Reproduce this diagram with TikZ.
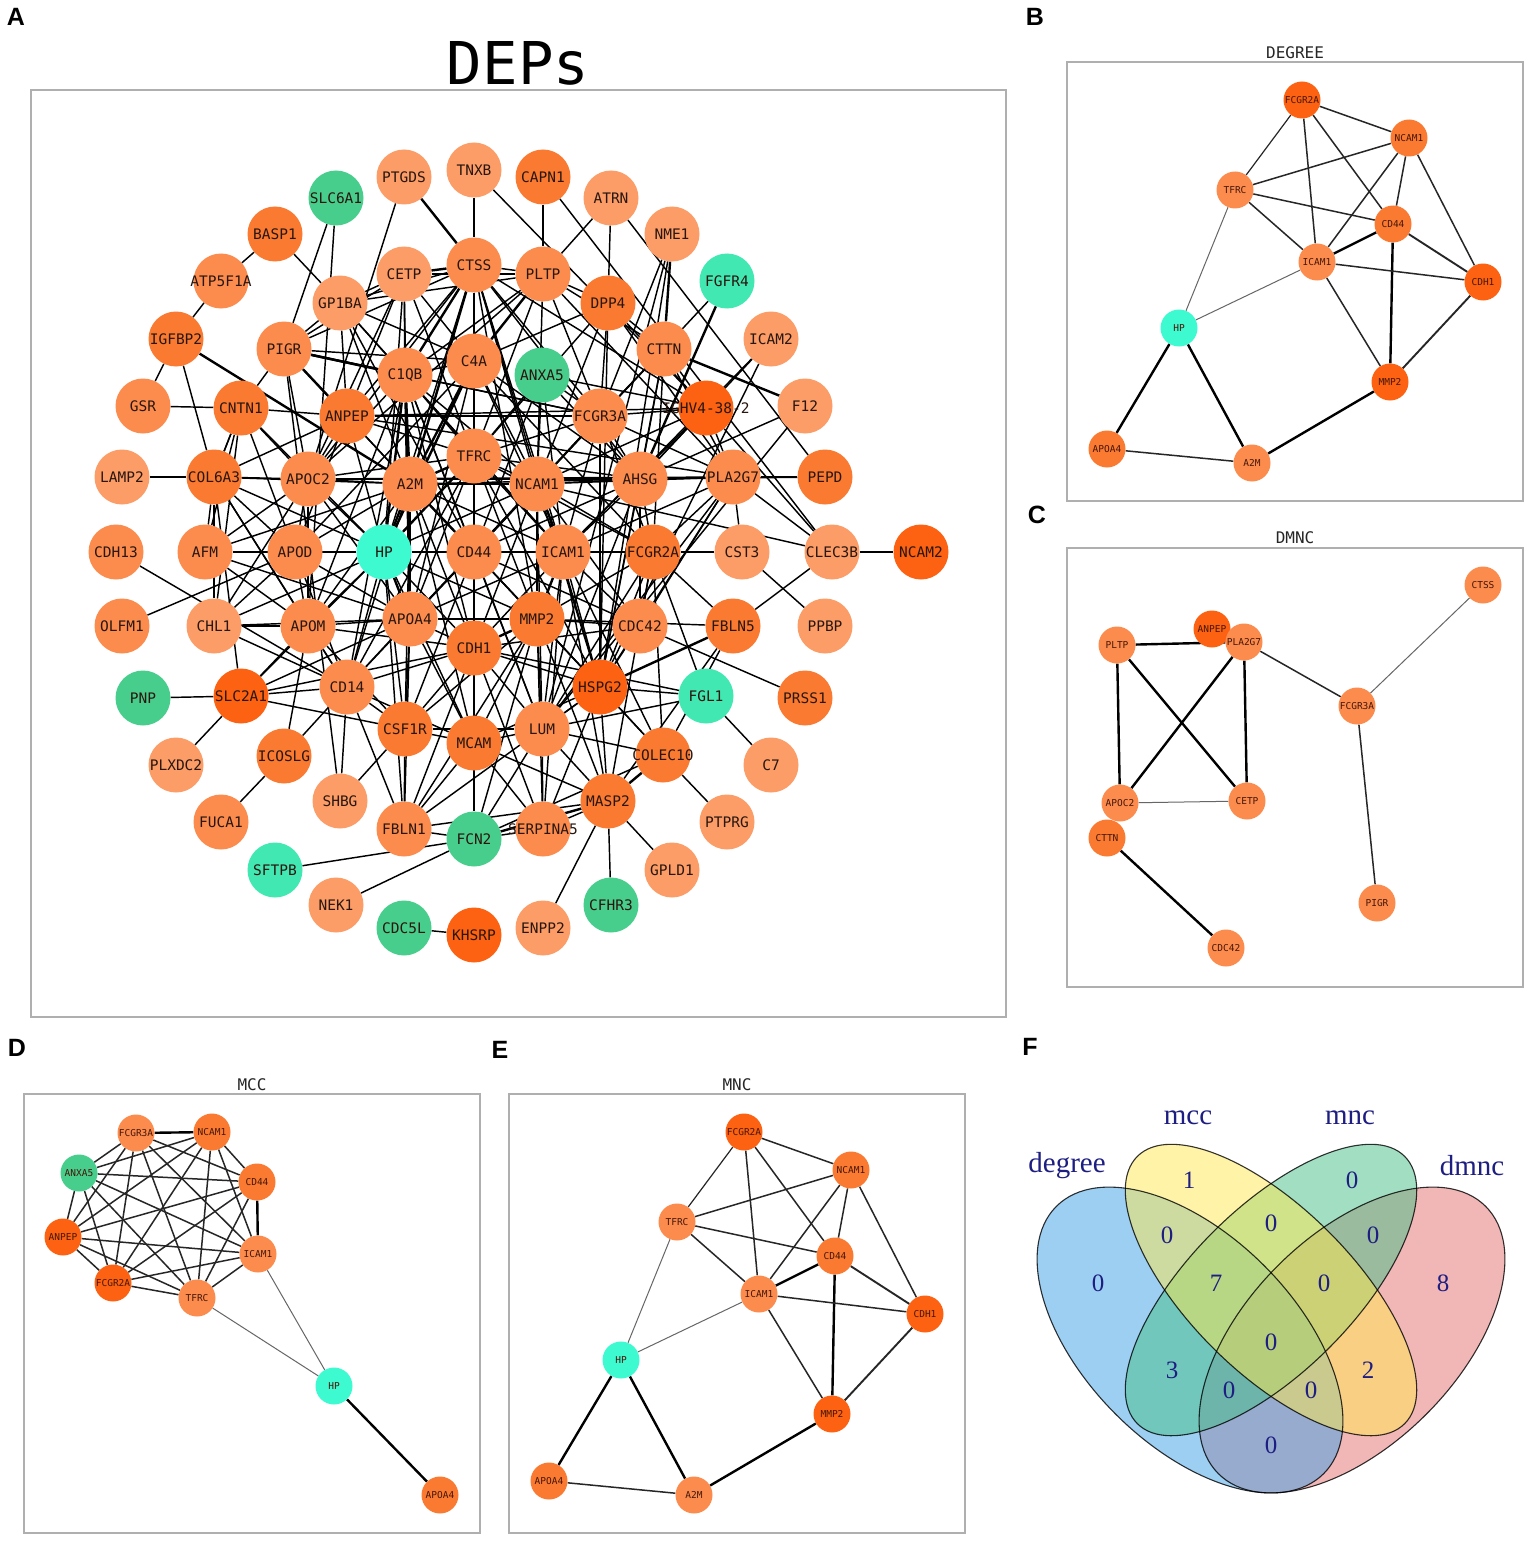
\documentclass[tikz,border=0pt]{standalone}
\usepackage{fontspec}
\newfontfamily\monof{DejaVu Sans Mono}
\newfontfamily\arialf{Liberation Sans}
\newfontfamily\timesf{Liberation Serif}
\pgfdeclarelayer{bg}
\pgfsetlayers{bg,main}
\definecolor{o1}{RGB}{252,156,102}
\definecolor{o2}{RGB}{252,140,78}
\definecolor{o3}{RGB}{250,122,50}
\definecolor{o4}{RGB}{252,98,18}
\definecolor{gr}{RGB}{72,206,140}
\definecolor{aq}{RGB}{66,232,178}
\definecolor{hpc}{RGB}{62,250,208}
\definecolor{labc}{RGB}{40,22,15}
\definecolor{slab}{RGB}{70,22,8}
\definecolor{framec}{RGB}{175,175,175}
\definecolor{vblue}{RGB}{60,160,230}
\definecolor{vyellow}{RGB}{255,232,80}
\definecolor{vgreen}{RGB}{70,192,135}
\definecolor{vpink}{RGB}{228,112,112}
\definecolor{vtext}{RGB}{30,30,130}
\tikzset{
  na/.style={circle, minimum size=55pt, inner sep=0pt, draw=none},
  la/.style={font=\monof\fontsize{14.5}{16}\selectfont, text=labc, inner sep=0pt},
  ns/.style={circle, minimum size=37pt, inner sep=0pt, draw=none},
  ls/.style={font=\monof\fontsize{9.5}{11}\selectfont, text=slab, inner sep=0pt},
  e/.style={line width=1.45pt, draw=black},
  et/.style={line width=2.4pt},
  sn/.style={line width=1.5pt, draw=black!85},
  st/.style={line width=1.0pt, draw=black!60},
  sk/.style={line width=2.4pt, draw=black},
  panelframe/.style={draw=framec, line width=1.4pt},
  ptitle/.style={font=\monof\fontsize{16}{18}\selectfont, text=black!85},
  pletter/.style={font=\arialf\bfseries\fontsize{25}{28}\selectfont, text=black},
  vlab/.style={font=\timesf\fontsize{29}{32}\selectfont, text=vtext},
  vnum/.style={font=\timesf\fontsize{25}{28}\selectfont, text=vtext},
}
\newcommand\netnodeA[4]{\node[na,fill=#3,label={[la]center:#4}] (#1) at (#2) {};}
\newcommand\netnodeS[4]{\node[ns,fill=#3,label={[ls]center:#4}] (#1) at (#2) {};}
\newcommand\hubedges[3][]{\foreach \tgt in {#3}{\draw[e,#1] (#2) -- (\tgt);}}
\newcommand\sedges[3][]{\foreach \tgt in {#3}{\draw[sn,#1] (#2) -- (\tgt);}}
\newcommand\DegreeNet[1]{%
  \netnodeS{#1FCGR2A}{1302,100}{o4}{FCGR2A}
  \netnodeS{#1NCAM1}{1409,138}{o3}{NCAM1}
  \netnodeS{#1TFRC}{1235,190}{o2}{TFRC}
  \netnodeS{#1CD44}{1393,224}{o3}{CD44}
  \netnodeS{#1ICAM1}{1317,262}{o2}{ICAM1}
  \netnodeS{#1CDH1}{1483,282}{o4}{CDH1}
  \netnodeS{#1HP}{1179,328}{hpc}{HP}
  \netnodeS{#1MMP2}{1390,382}{o4}{MMP2}
  \netnodeS{#1APOA4}{1107,449}{o3}{APOA4}
  \netnodeS{#1A2M}{1252,463}{o2}{A2M}
  \begin{pgfonlayer}{bg}
    \sedges{#1FCGR2A}{#1NCAM1,#1ICAM1,#1CD44}
    \sedges[line width=1.2pt]{#1FCGR2A}{#1TFRC}
    \sedges{#1NCAM1}{#1TFRC,#1ICAM1,#1CD44,#1CDH1}
    \sedges{#1TFRC}{#1CD44,#1ICAM1}
    \sedges[st]{#1TFRC}{#1HP}
    \sedges[sk]{#1CD44}{#1ICAM1,#1MMP2}
    \sedges[line width=1.9pt]{#1CD44}{#1CDH1}
    \sedges{#1ICAM1}{#1CDH1,#1MMP2}
    \sedges[st]{#1ICAM1}{#1HP}
    \sedges[line width=1.9pt]{#1CDH1}{#1MMP2}
    \sedges[sk]{#1HP}{#1APOA4,#1A2M}
    \sedges{#1APOA4}{#1A2M}
    \sedges[sk]{#1A2M}{#1MMP2}
  \end{pgfonlayer}}
\begin{document}
\begin{tikzpicture}[x=1pt,y=-1pt]
\useasboundingbox (0,0) rectangle (1535,1546);
\begin{pgfonlayer}{bg}
\fill[white] (0,0) rectangle (1535,1546);
\end{pgfonlayer}

% ---------------- Panel A ----------------
\node[pletter] (LA) at (16,17) {A};
\node[font=\monof\fontsize{59}{62}\selectfont] (titA) at (518,63) {DEPs};
\draw[panelframe] (31,90) rectangle (1006,1017);

\netnodeA{PTGDS}{404,177}{o1}{PTGDS}
\netnodeA{TNXB}{474,170}{o1}{TNXB}
\netnodeA{CAPN1}{543,177}{o3}{CAPN1}
\netnodeA{ATRN}{611,198}{o1}{ATRN}
\netnodeA{NME1}{672,234}{o1}{NME1}
\netnodeA{SLC6A1}{336,198}{gr}{SLC6A1}
\netnodeA{BASP1}{275,234}{o3}{BASP1}
\netnodeA{ATP}{221,281}{o2}{ATP5F1A}
\netnodeA{CETP}{404,274}{o1}{CETP}
\netnodeA{CTSS}{474,265}{o2}{CTSS}
\netnodeA{PLTP}{543,274}{o2}{PLTP}
\netnodeA{DPP4}{608,303}{o3}{DPP4}
\netnodeA{FGFR4}{727,281}{aq}{FGFR4}
\netnodeA{GP1BA}{340,303}{o1}{GP1BA}
\netnodeA{IGFBP2}{176,339}{o3}{IGFBP2}
\netnodeA{PIGR}{284,349}{o2}{PIGR}
\netnodeA{C1QB}{405,375}{o2}{C1QB}
\netnodeA{C4A}{474,361}{o2}{C4A}
\netnodeA{ANXA5}{542,375}{gr}{ANXA5}
\netnodeA{CTTN}{664,349}{o2}{CTTN}
\netnodeA{ICAM2}{771,339}{o1}{ICAM2}
\netnodeA{GSR}{143,406}{o2}{GSR}
\netnodeA{CNTN1}{241,408}{o3}{CNTN1}
\netnodeA{ANPEP}{347,416}{o3}{ANPEP}
\netnodeA{FCGR3A}{600,416}{o2}{FCGR3A}
\netnodeA{IGHV}{706,408}{o4}{IGHV4-38-2}
\netnodeA{F12}{805,406}{o1}{F12}
\netnodeA{LAMP2}{122,477}{o1}{LAMP2}
\netnodeA{COL6A3}{214,477}{o3}{COL6A3}
\netnodeA{APOC2}{308,479}{o2}{APOC2}
\netnodeA{A2M}{410,484}{o2}{A2M}
\netnodeA{TFRC}{474,456}{o2}{TFRC}
\netnodeA{NCAM1}{537,484}{o2}{NCAM1}
\netnodeA{AHSG}{640,479}{o2}{AHSG}
\netnodeA{PLA2G7}{733,477}{o2}{PLA2G7}
\netnodeA{PEPD}{825,477}{o3}{PEPD}
\netnodeA{CDH13}{116,552}{o2}{CDH13}
\netnodeA{AFM}{205,552}{o2}{AFM}
\netnodeA{APOD}{295,552}{o2}{APOD}
\netnodeA{HP}{384,552}{hpc}{HP}
\netnodeA{CD44}{474,552}{o2}{CD44}
\netnodeA{ICAM1}{563,552}{o2}{ICAM1}
\netnodeA{FCGR2A}{653,552}{o3}{FCGR2A}
\netnodeA{CST3}{742,552}{o1}{CST3}
\netnodeA{CLEC3B}{832,552}{o1}{CLEC3B}
\netnodeA{NCAM2}{921,552}{o4}{NCAM2}
\netnodeA{OLFM1}{122,626}{o2}{OLFM1}
\netnodeA{CHL1}{214,626}{o1}{CHL1}
\netnodeA{APOM}{308,626}{o2}{APOM}
\netnodeA{APOA4}{410,619}{o2}{APOA4}
\netnodeA{CDH1}{474,648}{o3}{CDH1}
\netnodeA{MMP2}{537,619}{o3}{MMP2}
\netnodeA{CDC42}{640,626}{o2}{CDC42}
\netnodeA{FBLN5}{733,626}{o3}{FBLN5}
\netnodeA{PPBP}{825,626}{o1}{PPBP}
\netnodeA{PNP}{143,698}{gr}{PNP}
\netnodeA{SLC2A1}{241,696}{o4}{SLC2A1}
\netnodeA{CD14}{347,687}{o2}{CD14}
\netnodeA{CSF1R}{405,729}{o3}{CSF1R}
\netnodeA{MCAM}{474,743}{o3}{MCAM}
\netnodeA{LUM}{542,729}{o2}{LUM}
\netnodeA{HSPG2}{600,687}{o4}{HSPG2}
\netnodeA{FGL1}{706,696}{aq}{FGL1}
\netnodeA{PRSS1}{805,698}{o3}{PRSS1}
\netnodeA{PLXDC2}{176,765}{o1}{PLXDC2}
\netnodeA{ICOSLG}{284,756}{o3}{ICOSLG}
\netnodeA{COLEC10}{663,755}{o3}{COLEC10}
\netnodeA{C7}{771,765}{o1}{C7}
\netnodeA{FUCA1}{221,822}{o2}{FUCA1}
\netnodeA{SHBG}{340,801}{o1}{SHBG}
\netnodeA{FBLN1}{404,829}{o2}{FBLN1}
\netnodeA{FCN2}{474,839}{gr}{FCN2}
\netnodeA{SERPINA5}{543,829}{o2}{SERPINA5}
\netnodeA{MASP2}{608,801}{o3}{MASP2}
\netnodeA{PTPRG}{727,822}{o1}{PTPRG}
\netnodeA{GPLD1}{672,870}{o1}{GPLD1}
\netnodeA{SFTPB}{275,870}{aq}{SFTPB}
\netnodeA{NEK1}{336,905}{o1}{NEK1}
\netnodeA{CDC5L}{404,928}{gr}{CDC5L}
\netnodeA{KHSRP}{474,935}{o4}{KHSRP}
\netnodeA{ENPP2}{543,928}{o1}{ENPP2}
\netnodeA{CFHR3}{611,905}{gr}{CFHR3}

\begin{pgfonlayer}{bg}
% outer edges
\hubedges{BASP1}{ATP,GP1BA}
\hubedges{ATP}{IGFBP2}
\hubedges{IGFBP2}{GSR,COL6A3}
\hubedges[et]{IGFBP2}{A2M}
\hubedges{SLC6A1}{PIGR,APOM}
\hubedges[et]{PTGDS}{CTSS}
\hubedges{PTGDS}{APOC2}
\hubedges[et]{TNXB}{CTSS}
\hubedges{TNXB}{IGHV}
\hubedges[et]{CAPN1}{PLTP}
\hubedges{CAPN1}{CLEC3B}
\hubedges{ATRN}{PLTP,DPP4,PEPD}
\hubedges[et]{NME1}{CTTN}
\hubedges{NME1}{FCGR3A,HSPG2,LUM}
\hubedges[et]{FGFR4}{AHSG}
\hubedges{FGFR4}{CD44}
\hubedges{ICAM2}{HSPG2,ICAM1,AHSG}
\hubedges[et]{F12}{CTTN}
\hubedges{F12}{AHSG,LUM}
\hubedges[et]{PEPD}{PLA2G7}
\hubedges{PEPD}{AHSG}
\hubedges[et]{CLEC3B}{NCAM2}
\hubedges{CLEC3B}{FBLN5,PLA2G7,IGHV,NCAM1}
\hubedges{CST3}{PPBP,PLA2G7,FCGR2A}
\hubedges{GSR}{CNTN1}
\hubedges{LAMP2}{COL6A3}
\hubedges{CDH13}{CD14}
\hubedges{OLFM1}{APOD}
\hubedges{PNP}{SLC2A1}
\hubedges{SLC2A1}{CSF1R,PLXDC2}
\hubedges{ICOSLG}{FUCA1}
\hubedges{SHBG}{CSF1R,CD14,PIGR}
\hubedges{SFTPB}{FCN2}
\hubedges{NEK1}{FCN2}
\hubedges{CDC5L}{KHSRP}
\hubedges{MASP2}{ENPP2,CFHR3,GPLD1}
\hubedges{PTPRG}{COLEC10}
\hubedges{C7}{FGL1}
\hubedges{PRSS1}{CDC42}
\hubedges{FGL1}{FCGR2A,LUM,HSPG2,CDH1}
\hubedges[et]{FBLN5}{HSPG2}
\hubedges{FBLN5}{MASP2,COLEC10}
% core edges
\hubedges{CTSS}{C4A,TFRC,NCAM1,HP,ICAM1,FCGR3A,ANPEP,APOC2,AHSG,MMP2,CDH1,GP1BA,PIGR,PLTP,HSPG2,IGHV}
\hubedges[et]{CTSS}{C1QB,A2M,CD44,CETP}
\hubedges{C4A}{C1QB,TFRC,NCAM1,ICAM1,APOA4,CDH1,FCGR2A,AHSG,PIGR,GP1BA,CETP,DPP4,APOD,MCAM}
\hubedges[et]{C4A}{A2M,HP,CD44,PLTP}
\hubedges{C1QB}{TFRC,CD44,NCAM1,ICAM1,CD14,APOM,CETP,GP1BA,PLTP,FCGR3A,CDH1,APOC2,LUM}
\hubedges[et]{C1QB}{A2M,HP,APOA4,PIGR}
\hubedges{TFRC}{NCAM1,ICAM1,FCGR2A,MMP2,CDH1,APOA4,AHSG,FCGR3A,ANXA5,PLTP,DPP4,CETP,ANPEP,APOC2,HSPG2,CD14}
\hubedges[et]{TFRC}{A2M,HP,CD44}
\hubedges{A2M}{NCAM1,ICAM1,APOC2,APOD,APOM,CDH1,MMP2,AHSG,CD14,CSF1R,ANPEP,GP1BA,AFM,COL6A3,PIGR,MCAM}
\hubedges[et]{A2M}{HP,CD44,APOA4}
\hubedges{NCAM1}{HP,FCGR2A,AHSG,PLA2G7,CDH1,MMP2,APOA4,ANXA5,FCGR3A,CTTN,DPP4,PLTP,LUM,CDC42,HSPG2,IGHV}
\hubedges[et]{NCAM1}{CD44,ICAM1}
\hubedges{HP}{ICAM1,APOM,APOD,APOC2,CDH1,MMP2,CD14,CSF1R,AFM,CHL1,COL6A3,ANPEP,CNTN1,FBLN1,MCAM,SLC2A1}
\hubedges[et]{HP}{CD44,APOA4}
\hubedges{CD44}{CDH1,MMP2,APOA4,FCGR2A,AHSG,CD14,MCAM,LUM,HSPG2,CDC42,ANXA5,FCGR3A,CSF1R}
\hubedges[et]{CD44}{ICAM1}
\hubedges{ICAM1}{FCGR2A,CDH1,AHSG,PLA2G7,LUM,HSPG2,CDC42,APOA4,MASP2,SERPINA5,FCGR3A,IGHV,ANXA5,COLEC10}
\hubedges[et]{ICAM1}{MMP2}
\hubedges{CDH1}{APOA4,CD14,CSF1R,MCAM,LUM,HSPG2,FBLN1,FCN2,SERPINA5,APOM,SLC2A1,CDC42}
\hubedges[et]{CDH1}{MMP2}
\hubedges{MMP2}{APOA4,FCGR2A,LUM,HSPG2,MCAM,CDC42,MASP2,FCN2,FBLN1,CSF1R,COLEC10,SERPINA5,FBLN5}
\hubedges{APOA4}{APOM,APOD,APOC2,CD14,CSF1R,CHL1,AFM,FBLN1,MCAM,SLC2A1}
\hubedges{FCGR2A}{AHSG,PLA2G7,CDC42,HSPG2,LUM,FCGR3A,MASP2,COLEC10,FBLN5}
\hubedges{FCGR3A}{ANXA5,AHSG,PLA2G7,IGHV,CTTN,DPP4,PLTP,ANPEP,PIGR,HSPG2}
\hubedges{AHSG}{PLA2G7,IGHV,CTTN,ANXA5,CDC42,HSPG2,LUM,APOC2}
\hubedges{ANPEP}{APOC2,COL6A3,CNTN1,APOD,GP1BA,CETP,IGHV,PLA2G7}
\hubedges[et]{ANPEP}{PIGR}
\hubedges{APOC2}{COL6A3,APOD,APOM,AFM,CHL1,CNTN1,PIGR,CETP,PLTP,PLA2G7}
\hubedges{COL6A3}{AFM,APOD,APOM,CHL1,CNTN1,CD14,SLC2A1}
\hubedges{APOD}{AFM,APOM,CHL1,CD14,CNTN1}
\hubedges{APOM}{CHL1,CD14,CSF1R,SLC2A1,ICOSLG,AFM}
\hubedges{CD14}{CSF1R,SLC2A1,ICOSLG,CHL1,MCAM,FBLN1}
\hubedges{CSF1R}{MCAM,LUM,FBLN1}
\hubedges{MCAM}{LUM,FBLN1,FCN2,SERPINA5,MASP2,HSPG2}
\hubedges{LUM}{HSPG2,SERPINA5,MASP2,FCN2,COLEC10}
\hubedges{HSPG2}{COLEC10,MASP2,SERPINA5,FBLN1,CDC42}
\hubedges[et]{MASP2}{COLEC10,FCN2}
\hubedges{MASP2}{SERPINA5,FBLN1}
\hubedges{FCN2}{FBLN1,SERPINA5,COLEC10}
\hubedges{CNTN1}{PIGR,CHL1,AFM,COL6A3}
\hubedges[et]{PIGR}{C1QB}
\hubedges{PIGR}{GP1BA,CETP}
\hubedges{GP1BA}{CETP,PLTP,CD44,ICAM1}
\hubedges{PLTP}{CETP,DPP4,PLA2G7,CTTN}
\hubedges{DPP4}{CTTN,IGHV,PLA2G7,HSPG2}
\hubedges{CTTN}{IGHV,PLA2G7,HSPG2,FCGR2A}
\hubedges{IGHV}{PLA2G7,ANXA5}
\hubedges{PLA2G7}{CDC42,LUM,HSPG2}
\hubedges{CETP}{APOA4,HP}
\end{pgfonlayer}

% ---------------- Panel B ----------------
\node[pletter] (LB) at (1035,17) {B};
\node[ptitle] (titB) at (1295,53) {DEGREE};
\draw[panelframe] (1067,62) rectangle (1523,501);
\DegreeNet{b}

% ---------------- Panel C ----------------
\node[pletter] (LC) at (1037,515) {C};
\node[ptitle] (titC) at (1295,538) {DMNC};
\draw[panelframe] (1067,548) rectangle (1523,987);
\netnodeS{cCTSS}{1483,585}{o2}{CTSS}
\netnodeS{cPLTP}{1117,645}{o2}{PLTP}
\netnodeS{cANPEP}{1212,629}{o4}{ANPEP}
\netnodeS{cPLA2G7}{1244,642}{o2}{PLA2G7}
\netnodeS{cFCGR3A}{1357,706}{o2}{FCGR3A}
\netnodeS{cAPOC2}{1120,803}{o2}{APOC2}
\netnodeS{cCETP}{1247,801}{o2}{CETP}
\netnodeS{cCTTN}{1107,838}{o3}{CTTN}
\netnodeS{cPIGR}{1377,903}{o2}{PIGR}
\netnodeS{cCDC42}{1226,948}{o2}{CDC42}
\begin{pgfonlayer}{bg}
\sedges[sk]{cPLTP}{cPLA2G7,cAPOC2,cCETP}
\sedges[sk]{cPLA2G7}{cAPOC2,cCETP}
\sedges[st]{cAPOC2}{cCETP}
\sedges{cPLA2G7}{cFCGR3A}
\sedges[st]{cFCGR3A}{cCTSS}
\sedges{cFCGR3A}{cPIGR}
\sedges[sk]{cCTTN}{cCDC42}
\end{pgfonlayer}

% ---------------- Panel D ----------------
\node[pletter] (LD) at (17,1048) {D};
\node[ptitle] (titD) at (252,1085) {MCC};
\draw[panelframe] (24,1094) rectangle (480,1533);
\netnodeS{dFCGR3A}{136,1133}{o2}{FCGR3A}
\netnodeS{dNCAM1}{212,1132}{o3}{NCAM1}
\netnodeS{dANXA5}{79,1173}{gr}{ANXA5}
\netnodeS{dCD44}{257,1182}{o3}{CD44}
\netnodeS{dANPEP}{63,1237}{o4}{ANPEP}
\netnodeS{dICAM1}{258,1254}{o2}{ICAM1}
\netnodeS{dFCGR2A}{113,1283}{o4}{FCGR2A}
\netnodeS{dTFRC}{197,1298}{o2}{TFRC}
\netnodeS{dHP}{334,1386}{hpc}{HP}
\netnodeS{dAPOA4}{440,1495}{o3}{APOA4}
\begin{pgfonlayer}{bg}
\sedges[sk]{dFCGR3A}{dNCAM1}
\sedges{dFCGR3A}{dANXA5,dCD44,dANPEP,dICAM1,dFCGR2A,dTFRC}
\sedges{dNCAM1}{dANXA5,dCD44,dANPEP,dICAM1,dFCGR2A,dTFRC}
\sedges{dANXA5}{dCD44,dANPEP,dICAM1,dFCGR2A,dTFRC}
\sedges{dCD44}{dANPEP,dFCGR2A,dTFRC}
\sedges[sk]{dCD44}{dICAM1}
\sedges{dANPEP}{dICAM1,dFCGR2A,dTFRC}
\sedges{dICAM1}{dFCGR2A,dTFRC}
\sedges{dFCGR2A}{dTFRC}
\sedges[st]{dHP}{dTFRC,dICAM1}
\sedges[sk]{dHP}{dAPOA4}
\end{pgfonlayer}

% ---------------- Panel E ----------------
\node[pletter] (LE) at (500,1050) {E};
\node[ptitle] (titE) at (737,1085) {MNC};
\draw[panelframe] (509,1094) rectangle (965,1533);
\begin{scope}[shift={(-558,1032)}]
\DegreeNet{e}
\end{scope}

% ---------------- Panel F ----------------
\node[pletter] (LF) at (1030,1047) {F};
\begin{scope}[fill opacity=0.5]
\fill[vpink, shift={(1352,1340)}, rotate=45] (0,0) ellipse [x radius=189, y radius=105];
\fill[vblue, shift={(1190,1340)}, rotate=-45] (0,0) ellipse [x radius=189, y radius=105];
\fill[vgreen, shift={(1271,1290)}, rotate=45] (0,0) ellipse [x radius=189, y radius=82];
\fill[vyellow, shift={(1271,1290)}, rotate=-45] (0,0) ellipse [x radius=189, y radius=82];
\end{scope}
\begin{scope}[draw=black, draw opacity=0.8, line width=1.1pt]
\draw[shift={(1190,1340)}, rotate=-45] (0,0) ellipse [x radius=189, y radius=105];
\draw[shift={(1271,1290)}, rotate=-45] (0,0) ellipse [x radius=189, y radius=82];
\draw[shift={(1271,1290)}, rotate=45] (0,0) ellipse [x radius=189, y radius=82];
\draw[shift={(1352,1340)}, rotate=45] (0,0) ellipse [x radius=189, y radius=105];
\end{scope}
\node[vlab] (vdeg) at (1067,1166) {degree};
\node[vlab] (vmcc) at (1188,1118) {mcc};
\node[vlab] (vmnc) at (1350,1118) {mnc};
\node[vlab] (vdmnc) at (1472,1166) {dmnc};
\node[vnum] (n1) at (1189,1180) {1};
\node[vnum] (n2) at (1352,1180) {0};
\node[vnum] (n3) at (1098,1283) {0};
\node[vnum] (n4) at (1443,1283) {8};
\node[vnum] (n5) at (1167,1235) {0};
\node[vnum] (n6) at (1271,1223) {0};
\node[vnum] (n7) at (1373,1235) {0};
\node[vnum] (n8) at (1216,1283) {7};
\node[vnum] (n9) at (1324,1283) {0};
\node[vnum] (n10) at (1271,1342) {0};
\node[vnum] (n11) at (1172,1370) {3};
\node[vnum] (n12) at (1368,1370) {2};
\node[vnum] (n13) at (1229,1390) {0};
\node[vnum] (n14) at (1311,1390) {0};
\node[vnum] (n15) at (1271,1445) {0};
\end{tikzpicture}
\end{document}
